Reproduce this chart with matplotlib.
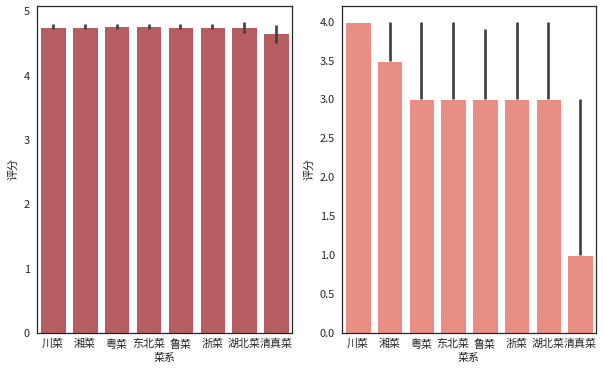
import matplotlib
matplotlib.use("Agg")
import matplotlib.pyplot as plt
import seaborn as sns

sns.set_style("white")
plt.rcParams['font.family'] = ['Noto Sans CJK SC', 'DejaVu Sans']
plt.rcParams['axes.unicode_minus'] = False

categories = ["川菜", "湘菜", "粤菜", "东北菜", "鲁菜", "浙菜", "湖北菜", "清真菜"]

# left: mean rating with 95% CI
mean_vals = [4.75, 4.75, 4.765, 4.77, 4.75, 4.75, 4.75, 4.66]
mean_lo = [4.73, 4.72, 4.73, 4.73, 4.72, 4.72, 4.67, 4.51]
mean_hi = [4.80, 4.80, 4.80, 4.81, 4.80, 4.80, 4.84, 4.79]

# right: median rating with CI
med_vals = [4.0, 3.5, 3.0, 3.0, 3.0, 3.0, 3.0, 1.0]
med_lo = [4.0, 3.5, 3.0, 3.0, 3.0, 3.0, 3.0, 1.0]
med_hi = [4.0, 4.0, 4.0, 4.0, 3.9, 4.0, 4.0, 3.0]

left_color = sns.desaturate("#C44E52", 0.75)
right_color = sns.desaturate("salmon", 0.75)
err_color = "#424242"
txt = "#262626"
fs = 11

fig = plt.figure(figsize=(603 / 72, 375 / 72), dpi=72)
ax1 = fig.add_axes([37 / 603, 42 / 375, 255 / 603, 327 / 375])
ax2 = fig.add_axes([342 / 603, 42 / 375, 254 / 603, 327 / 375])

for ax, vals, lo, hi, col, ticks in [
    (ax1, mean_vals, mean_lo, mean_hi, left_color, [0, 1, 2, 3, 4, 5]),
    (ax2, med_vals, med_lo, med_hi, right_color, [0, 0.5, 1, 1.5, 2, 2.5, 3, 3.5, 4]),
]:
    x = list(range(len(categories)))
    ax.bar(x, vals, width=0.8, color=col, zorder=2)
    ax.vlines(x, lo, hi, color=err_color, linewidth=2.7, zorder=3)
    ax.set_xticks(x)
    ax.set_xticklabels(categories, fontsize=fs, color=txt)
    ax.set_xlim(-0.5, len(categories) - 0.5)
    ax.set_ylim(0, max(hi) * 1.05)
    ax.set_yticks(ticks)
    if ax is ax1:
        ax.set_yticklabels([str(t) for t in ticks], fontsize=fs, color=txt)
    else:
        ax.set_yticklabels(["%.1f" % t for t in ticks], fontsize=fs, color=txt)
    ax.set_xlabel("菜系", fontsize=fs, color=txt, labelpad=3)
    ax.set_ylabel("评分", fontsize=fs, color=txt, labelpad=5)
    for s in ax.spines.values():
        s.set_color(txt)
        s.set_linewidth(1.25)
    ax.tick_params(axis="x", length=0, pad=6)
    ax.tick_params(axis="y", length=0, pad=7)

fig.savefig("out.png", dpi=72)
